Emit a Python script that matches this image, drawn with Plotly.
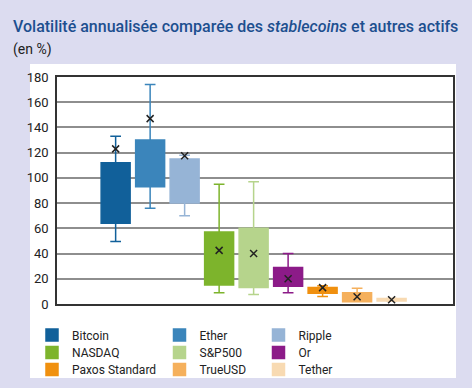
import plotly.graph_objects as go

names = ["Bitcoin", "Ether", "Ripple", "NASDAQ", "S&P500", "Or",
         "Paxos Standard", "TrueUSD", "Tether"]
q1 = [64, 93, 80, 15, 13, 14, 8.5, 1.8, 2.4]
q3 = [112, 130, 115, 57, 60, 29, 13, 9, 4.3]
low = [49.5, 76, 70, 9, 7.5, 9, 6, 1.8, 2.2]
high = [133, 174, 118, 95, 97, 40, 14.5, 12.4, 4.6]
means = [123, 147, 117.5, 42.5, 40, 20, 13, 5.8, 3.3]
colors = ["#11609a", "#3b85bb", "#96b4d6", "#7db42c", "#b6d48c", "#8c1b88",
          "#f0900f", "#f5b05c", "#f8dab2"]

FONT = "Roboto, Liberation Sans, sans-serif"

L, R, T, B = 57, 453, 77, 304
W, H = 472, 388
def px(x):
    return (x - L) / (R - L)
def py(y):
    return (B - y) / (B - T)

col_text_x = [73, 200.5, 299.5]
row_center_y = [335.5, 353, 370]

fig = go.Figure()
legends = {}
for i, n in enumerate(names):
    key = "legend" if i == 0 else f"legend{i + 1}"
    fig.add_trace(go.Box(
        name=n, x=[i], q1=[q1[i]], median=[q1[i]], q3=[q3[i]],
        lowerfence=[low[i]], upperfence=[high[i]],
        fillcolor=colors[i], line=dict(color=colors[i], width=1.5),
        width=0.84, whiskerwidth=0.37, boxpoints=False,
        legend=key, hoverinfo="skip"))
    r, c = divmod(i, 3)
    legends[key] = dict(
        x=px(col_text_x[c] - 41), y=py(row_center_y[r] - 15),
        orientation="v", yanchor="top", xanchor="left",
        bgcolor="rgba(0,0,0,0)",
        font=dict(family=FONT, size=12, color="#222"),
        itemclick=False, itemdoubleclick=False)

fig.add_trace(go.Scatter(
    x=list(range(len(names))), y=means, mode="markers", showlegend=False,
    marker=dict(symbol="x-thin", size=7, line=dict(color="#222222", width=1.5))))

fig.update_layout(
    width=W, height=H,
    margin=dict(l=L, r=W - R, t=T, b=H - B, autoexpand=False),
    paper_bgcolor="#dcdcf0", plot_bgcolor="rgba(0,0,0,0)",
    boxmode="overlay",
    showlegend=True,
    xaxis=dict(range=[-1.7, 9.78], showticklabels=False, showgrid=False, zeroline=False,
               showline=True, linecolor="#333", linewidth=1.5, mirror=True, ticks=""),
    yaxis=dict(range=[0, 180], dtick=20, showgrid=True, gridcolor="#8e8e8e", gridwidth=1.5,
               zeroline=False, showline=True, linecolor="#333", linewidth=1.5, mirror=True,
               tickfont=dict(family=FONT, size=13, color="#222"),
               ticks="", ticklabelstandoff=4),
    shapes=[dict(type="rect", xref="paper", yref="paper", layer="below",
                 x0=px(30), x1=px(456), y0=py(378), y1=py(64),
                 fillcolor="white", line=dict(width=0))],
    annotations=[
        dict(text="Volatilité annualisée comparée des <i>stablecoins</i> et autres actifs",
             xref="paper", yref="paper", x=px(11), y=py(26), xanchor="left", yanchor="middle",
             showarrow=False, font=dict(family=FONT, size=16, color="#1d4f8f", weight=500)),
        dict(text="(en %)", xref="paper", yref="paper", x=px(11), y=py(50),
             xanchor="left", yanchor="middle", showarrow=False,
             font=dict(family=FONT, size=14, color="#222")),
    ],
    **legends,
)

fig.write_html("out.html")
